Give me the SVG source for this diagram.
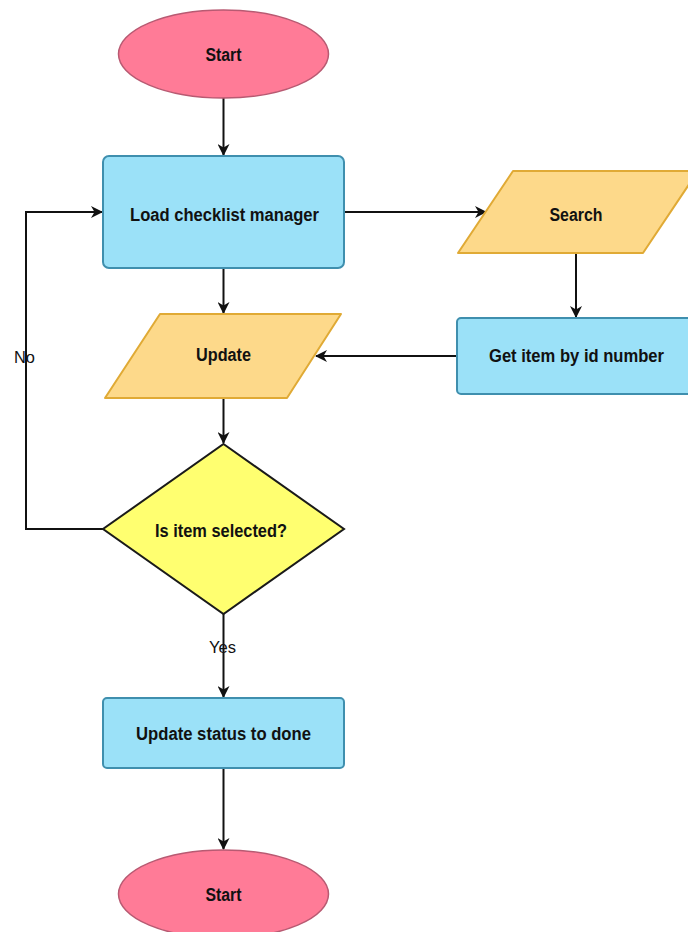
<svg xmlns="http://www.w3.org/2000/svg" width="688" height="932" viewBox="0 0 688 932">
  <style>
    .term { fill: #ff7b97; stroke: #b85a72; stroke-width: 1.5; }
    .proc { fill: #9be1f8; stroke: #3f8fae; stroke-width: 2; }
    .io { fill: #fdd98a; stroke: #e0aa35; stroke-width: 2; }
    .dec { fill: #ffff70; stroke: #1a1a1a; stroke-width: 2; }
    .lbl { font-family: "Liberation Sans", Arial, sans-serif; font-weight: bold; font-size: 18px; fill: #111; text-anchor: middle; }
    .edge-lbl { font-family: "Liberation Sans", Arial, sans-serif; font-size: 17px; fill: #111; text-anchor: middle; }
    .conn { fill: none; stroke: #111; stroke-width: 2; }
  </style>
  <defs>
    <marker id="arrow" viewBox="0 0 12 12" refX="11" refY="6" markerWidth="12" markerHeight="12" markerUnits="userSpaceOnUse" orient="auto">
      <path d="M0,0 L12,6 L0,12 L3.5,6 z" fill="#111"/>
    </marker>
  </defs>

  <rect width="688" height="932" fill="#ffffff"/>

  <!-- connectors -->
  <g id="connectors">
    <path class="conn" d="M223.5,98 L223.5,155" marker-end="url(#arrow)"/>
    <path class="conn" d="M344,212 L486,212" marker-end="url(#arrow)"/>
    <path class="conn" d="M576,253 L576,317" marker-end="url(#arrow)"/>
    <path class="conn" d="M457,356 L316,356" marker-end="url(#arrow)"/>
    <path class="conn" d="M223.5,268 L223.5,313" marker-end="url(#arrow)"/>
    <path class="conn" d="M223.5,398 L223.5,443" marker-end="url(#arrow)"/>
    <path class="conn" d="M103,529 L26,529 L26,212 L102,212" marker-end="url(#arrow)"/>
    <path class="conn" d="M223.5,614 L223.5,697" marker-end="url(#arrow)"/>
    <path class="conn" d="M223.5,768 L223.5,849" marker-end="url(#arrow)"/>
    <text class="edge-lbl" x="24.5" y="363" textLength="21" lengthAdjust="spacingAndGlyphs">No</text>
    <text class="edge-lbl" x="222.5" y="653" textLength="27" lengthAdjust="spacingAndGlyphs">Yes</text>
  </g>

  <g id="start">
    <ellipse class="term" cx="223.5" cy="54" rx="105" ry="44"/>
    <text class="lbl" x="223.5" y="61" textLength="36" lengthAdjust="spacingAndGlyphs">Start</text>
  </g>

  <g id="load">
    <rect class="proc" x="103" y="156" width="241" height="112" rx="6"/>
    <text class="lbl" x="224.5" y="220.5" textLength="189" lengthAdjust="spacingAndGlyphs">Load checklist manager</text>
  </g>

  <g id="search">
    <polygon class="io" points="513,171 698,171 643,253 458,253" stroke-linejoin="round"/>
    <text class="lbl" x="576" y="220.5" textLength="53" lengthAdjust="spacingAndGlyphs">Search</text>
  </g>

  <g id="get-item">
    <rect class="proc" x="457" y="318" width="241" height="76" rx="4"/>
    <text class="lbl" x="576.5" y="361.5" textLength="175" lengthAdjust="spacingAndGlyphs">Get item by id number</text>
  </g>

  <g id="update">
    <polygon class="io" points="160,314 341,314 287,398 105,398" stroke-linejoin="round"/>
    <text class="lbl" x="223.5" y="361" textLength="55" lengthAdjust="spacingAndGlyphs">Update</text>
  </g>

  <g id="decision">
    <polygon class="dec" points="223.5,444 344,529 223.5,614 103,529"/>
    <text class="lbl" x="221" y="537" textLength="132" lengthAdjust="spacingAndGlyphs">Is item selected?</text>
  </g>

  <g id="update-status">
    <rect class="proc" x="103" y="698" width="241" height="70" rx="4"/>
    <text class="lbl" x="223.5" y="740" textLength="175" lengthAdjust="spacingAndGlyphs">Update status to done</text>
  </g>

  <g id="end">
    <ellipse class="term" cx="223.5" cy="894" rx="105" ry="44"/>
    <text class="lbl" x="223.5" y="901" textLength="36" lengthAdjust="spacingAndGlyphs">Start</text>
  </g>
</svg>
